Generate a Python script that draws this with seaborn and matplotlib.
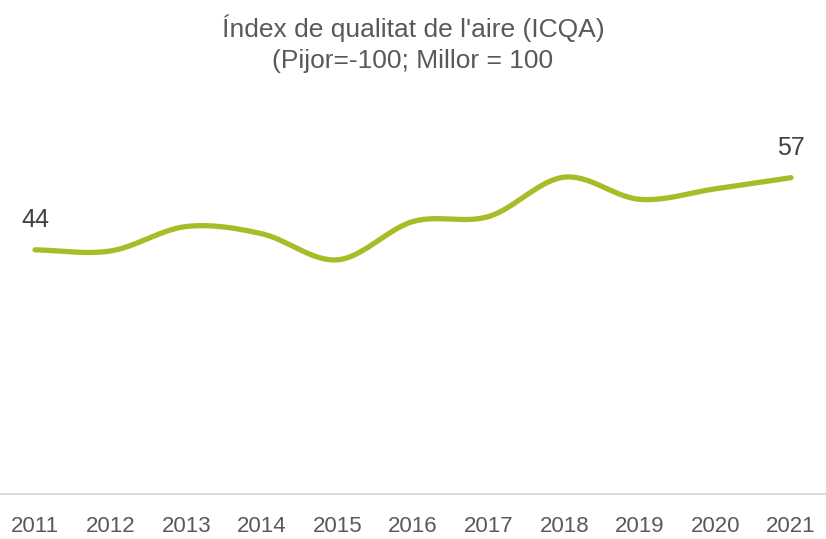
import numpy as np
import pandas as pd
import matplotlib
matplotlib.use("Agg")
import matplotlib.pyplot as plt
import seaborn as sns
from matplotlib import font_manager

years = [2011, 2012, 2013, 2014, 2015, 2016, 2017, 2018, 2019, 2020, 2021]
values = [44.0, 43.8, 48.2, 46.9, 42.2, 49.1, 50.0, 57.1, 53.1, 55.0, 57.0]
labels = {2011: "44", 2021: "57"}
title = "Índex de qualitat de l'aire (ICQA)\n(Pijor=-100; Millor = 100"

sns.set_theme(style="white")
names = {f.name for f in font_manager.fontManager.ttflist}
fam = ["Liberation Sans Narrow", "Liberation Sans", "DejaVu Sans"]
fam = [f for f in fam if f in names] + ["DejaVu Sans"]
plt.rcParams["font.family"] = fam

def smooth(x, y, n=30):
    x = np.asarray(x, float); y = np.asarray(y, float)
    px = np.concatenate([[2 * x[0] - x[1]], x, [2 * x[-1] - x[-2]]])
    py = np.concatenate([[2 * y[0] - y[1]], y, [2 * y[-1] - y[-2]]])
    xs, ys = [], []
    for i in range(1, len(px) - 2):
        t = np.linspace(0, 1, n, endpoint=(i == len(px) - 3))
        p0, p1, p2, p3 = (np.array([px[j], py[j]]) for j in range(i - 1, i + 3))
        b1 = p1 + (p2 - p0) / 6
        b2 = p2 - (p3 - p1) / 6
        pts = ((1 - t) ** 3)[:, None] * p1 + (3 * (1 - t) ** 2 * t)[:, None] * b1 \
            + (3 * (1 - t) * t ** 2)[:, None] * b2 + (t ** 3)[:, None] * p2
        xs.extend(pts[:, 0]); ys.extend(pts[:, 1])
    return np.array(xs), np.array(ys)

sx, sy = smooth(years, values)
df = pd.DataFrame({"x": sx, "y": sy})

fig = plt.figure(figsize=(8.26, 5.39), dpi=100)
ax = fig.add_axes([0, 45 / 539, 1, 394 / 539])
sns.lineplot(data=df, x="x", y="y", ax=ax, color="#a9bb26", linewidth=3.8,
             sort=False, estimator=None, solid_capstyle="round")
ax.set_xlim(2011 - 35 / 75.6, 2021 + 35 / 75.6)
ax.set_ylim(0, 71.0)
ax.set_xlabel(""); ax.set_ylabel("")
ax.set_yticks([])
ax.set_xticks(years)
ax.set_xticklabels([str(y) for y in years], fontsize=16, color="#595959")
ax.tick_params(axis="x", length=0, pad=16)
for s in ["top", "right", "left"]:
    ax.spines[s].set_visible(False)
ax.spines["bottom"].set_color("#d9d9d9")
ax.spines["bottom"].set_linewidth(1.5)
for yr, v in zip(years, values):
    if yr in labels:
        ax.annotate(labels[yr], (yr, v), xytext=(0, 13), textcoords="offset points",
                    ha="center", va="bottom", fontsize=18, color="#404040")
fig.text(0.5, 1 - 44 / 539, title, ha="center", va="center", fontsize=19,
         color="#595959", linespacing=1.35)
fig.savefig("out.png", dpi=100)
